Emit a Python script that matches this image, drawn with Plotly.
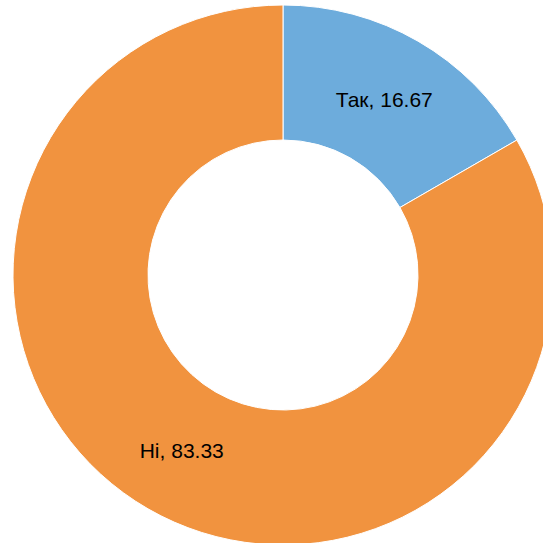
import plotly.graph_objects as go

labels = ["Так", "Ні"]
values = [16.67, 83.33]
colors = ["#6DACDC", "#F1933F"]

W, H = 566, 550
fig = go.Figure(go.Pie(
    labels=labels,
    values=values,
    hole=0.5,
    sort=False,
    direction="clockwise",
    rotation=0,
    marker=dict(colors=colors, line=dict(color="white", width=1)),
    texttemplate="%{label}, %{value}",
    textposition="inside",
    insidetextorientation="horizontal",
    insidetextfont=dict(color="black", size=21, family="Liberation Sans, Arial, sans-serif"),
    domain=dict(x=[13 / W, 553 / W], y=[5 / H, 545 / H]),
    showlegend=False,
    hoverinfo="label+value",
))
fig.update_layout(
    width=W, height=H, autosize=False,
    margin=dict(l=0, r=0, t=0, b=0),
    paper_bgcolor="white", plot_bgcolor="white",
)
fig.write_html("out.html", config={"displayModeBar": False},
               post_script="document.body.style.margin='0';document.body.style.overflow='hidden';")
